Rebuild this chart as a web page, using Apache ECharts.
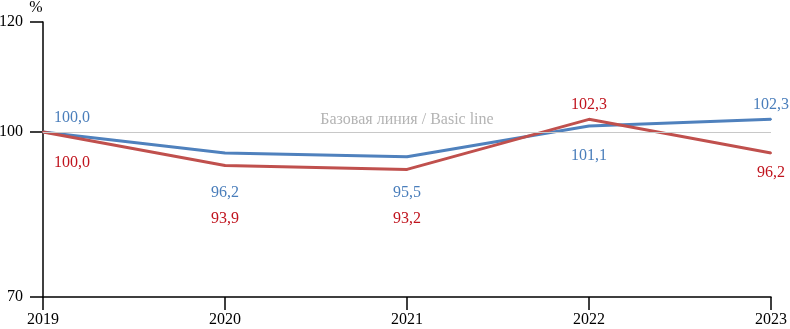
<!DOCTYPE html>
<html>
<head>
<meta charset="utf-8">
<script src="https://cdn.jsdelivr.net/npm/echarts@6/dist/echarts.min.js"></script>
<style>
  html, body { margin: 0; padding: 0; background: #fff; }
  #chart { width: 790px; height: 329px; }
</style>
</head>
<body>
<div id="chart"></div>
<script>
// данные
const years = ['2019', '2020', '2021', '2022', '2023']
const seriesBlue = [100.0, 96.2, 95.5, 101.1, 102.3]
const seriesRed = [100.0, 93.9, 93.2, 102.3, 96.2]
const yTicks = [70, 100, 120]
const baseValue = 100
const baseLabel = 'Базовая линия / Basic line'

// смещения подписей относительно точек
const blueOffsets = [[29, -14], [0, 40], [0, 36], [0, 30], [0, -15]]
const redOffsets = [[29, 31], [0, 53], [0, 49], [0, -15], [0, 20]]

const font = '"Liberation Serif", "Times New Roman", serif'
const fmt = v => v.toFixed(1).replace('.', ',')

const chart = echarts.init(document.getElementById('chart'))

const makeData = (vals, offsets, color) =>
  vals.map((v, i) => ({
    value: v,
    label: {
      show: true,
      position: 'inside',
      offset: offsets[i],
      formatter: fmt(v),
      color: color,
      fontFamily: font,
      fontSize: 16
    }
  }))

const option = {
  backgroundColor: '#fff',
  animation: false,
  grid: { left: 43, right: 19, top: 22, bottom: 32, containLabel: false, outerBoundsMode: 'none' },
  xAxis: {
    type: 'category',
    data: years,
    boundaryGap: false,
    axisLine: { lineStyle: { color: '#000', width: 1.5 } },
    axisTick: { alignWithLabel: true, length: 13, lineStyle: { color: '#000', width: 1.5 } },
    axisLabel: { color: '#000', fontFamily: font, fontSize: 16, margin: 15 }
  },
  yAxis: {
    type: 'value',
    min: 70,
    max: 120,
    name: '%',
    nameLocation: 'end',
    nameGap: 6,
    nameTextStyle: { color: '#000', fontFamily: font, fontSize: 16, padding: [0, 14, 0, 0] },
    axisLine: { show: true, lineStyle: { color: '#000', width: 1.5 } },
    axisTick: { show: true, length: 13, customValues: yTicks, lineStyle: { color: '#000', width: 1.5 } },
    axisLabel: { color: '#000', fontFamily: font, fontSize: 16, margin: 20, customValues: yTicks },
    splitLine: { show: false }
  },
  series: [
    {
      name: 'blue',
      type: 'line',
      data: makeData(seriesBlue, blueOffsets, '#4a7ebb'),
      symbol: 'circle',
      symbolSize: 2,
      itemStyle: { color: '#4f81bd' },
      lineStyle: { color: '#4f81bd', width: 3 },
      z: 3,
      markLine: {
        silent: true,
        symbol: 'none',
        lineStyle: { color: '#c8c8c8', type: 'solid', width: 1 },
        label: {
          position: 'insideMiddleTop',
          formatter: baseLabel,
          color: '#b4b4b4',
          fontFamily: font,
          fontSize: 16,
          distance: 4
        },
        data: [{ yAxis: baseValue }]
      }
    },
    {
      name: 'red',
      type: 'line',
      data: makeData(seriesRed, redOffsets, '#c0141e'),
      symbol: 'circle',
      symbolSize: 2,
      itemStyle: { color: '#c0504d' },
      lineStyle: { color: '#c0504d', width: 3 },
      z: 4
    }
  ]
}

chart.setOption(option)
</script>
</body>
</html>
